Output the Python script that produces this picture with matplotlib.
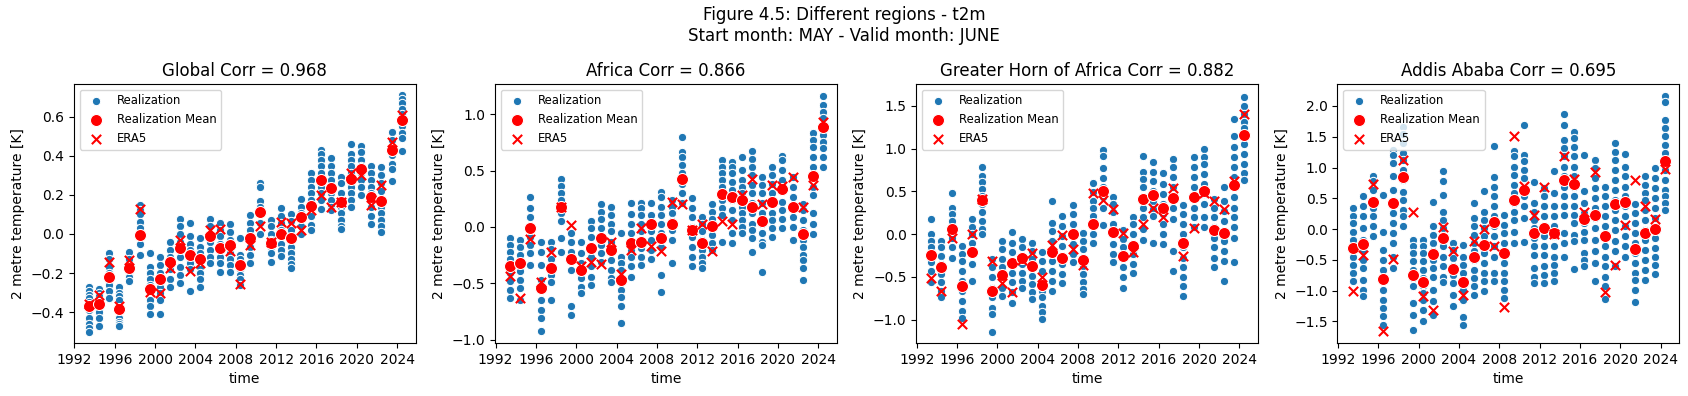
import datetime as dt
import matplotlib
matplotlib.use("Agg")
import matplotlib.pyplot as plt
import matplotlib.dates as mdates

years = list(range(1993, 2025))

regions = ["Global", "Africa", "Greater Horn of Africa", "Addis Ababa"]
corrs = [0.968, 0.866, 0.882, 0.695]

# ensemble members per year (one list per year)
global_real = [
    [-0.27, -0.29, -0.31, -0.33, -0.35, -0.37, -0.39, -0.43, -0.46, -0.48, -0.50],
    [-0.28, -0.30, -0.32, -0.34, -0.38, -0.40, -0.43, -0.47],
    [-0.10, -0.13, -0.17, -0.20, -0.23, -0.26, -0.29, -0.33],
    [-0.27, -0.30, -0.32, -0.34, -0.38, -0.43, -0.45, -0.46, -0.47],
    [-0.09, -0.13, -0.17, -0.20, -0.22, -0.24],
    [0.15, 0.12, 0.10, 0.06, 0.03, -0.005, -0.05, -0.11],
    [-0.10, -0.17, -0.20, -0.23, -0.26, -0.29, -0.34, -0.37, -0.41],
    [-0.12, -0.16, -0.20, -0.23, -0.27, -0.30, -0.34, -0.41],
    [-0.04, -0.08, -0.12, -0.15, -0.18, -0.23, -0.27],
    [0.075, 0.04, 0.0, -0.04, -0.08, -0.12, -0.17, -0.21, -0.25],
    [0.055, -0.01, -0.05, -0.08, -0.12, -0.15, -0.18, -0.29],
    [-0.02, -0.065, -0.10, -0.13, -0.17, -0.20, -0.23, -0.27],
    [0.075, 0.04, 0.0, -0.04, -0.08, -0.12, -0.15],
    [0.055, 0.02, -0.01, -0.05, -0.08, -0.12, -0.15, -0.195],
    [0.05, 0.01, -0.03, -0.065, -0.10, -0.13, -0.16, -0.195],
    [-0.02, -0.11, -0.13, -0.16, -0.18, -0.21, -0.23, -0.26],
    [0.095, 0.055, 0.02, -0.02, -0.065, -0.11, -0.15],
    [0.26, 0.24, 0.17, 0.14, 0.105, 0.055, 0.0],
    [0.07, 0.04, 0.0, -0.03, -0.065, -0.10, -0.145],
    [0.135, 0.09, 0.055, 0.02, -0.01, -0.05, -0.08, -0.115],
    [0.10, 0.065, 0.02, -0.03, -0.065, -0.10, -0.13, -0.155, -0.175],
    [0.18, 0.14, 0.105, 0.075, 0.04, 0.0],
    [0.31, 0.275, 0.24, 0.21, 0.175, 0.14, 0.09, 0.045, 0.02],
    [0.43, 0.41, 0.38, 0.345, 0.31, 0.275, 0.24, 0.21, 0.175, 0.125],
    [0.39, 0.345, 0.31, 0.275, 0.24, 0.21, 0.175, 0.14, 0.12],
    [0.29, 0.26, 0.21, 0.175, 0.14, 0.105, 0.07, 0.04, 0.025],
    [0.46, 0.41, 0.38, 0.345, 0.31, 0.275, 0.24, 0.21, 0.175, 0.14],
    [0.45, 0.42, 0.38, 0.345, 0.31, 0.275, 0.24, 0.20],
    [0.35, 0.31, 0.275, 0.24, 0.21, 0.175, 0.14, 0.09, 0.05],
    [0.34, 0.30, 0.26, 0.22, 0.175, 0.14, 0.105, 0.07, 0.04, 0.01],
    [0.52, 0.48, 0.445, 0.405, 0.36, 0.33, 0.27],
    [0.71, 0.69, 0.67, 0.64, 0.615, 0.58, 0.55, 0.515, 0.49, 0.425],
]
global_mean = [-0.37, -0.36, -0.22, -0.385, -0.175, -0.005, -0.28, -0.23, -0.145, -0.07,
               -0.11, -0.13, -0.013, -0.07, -0.055, -0.16, -0.02, 0.11, -0.045, 0.0,
               -0.02, 0.085, 0.145, 0.275, 0.235, 0.165, 0.28, 0.33, 0.19, 0.17,
               0.43, 0.585]
global_era5 = [-0.36, -0.31, -0.145, -0.37, -0.135, 0.125, -0.295, -0.30, -0.175, -0.03,
               -0.19, -0.15, 0.02, 0.025, -0.085, -0.255, -0.055, 0.04, -0.04, 0.06,
               0.055, 0.02, 0.12, 0.20, 0.14, 0.165, 0.31, 0.30, 0.15, 0.25,
               0.47, 0.61]

africa_real = [
    [-0.095, -0.16, -0.22, -0.28, -0.34, -0.41, -0.48, -0.56, -0.63],
    [-0.115, -0.175, -0.25, -0.32, -0.395, -0.47, -0.54, -0.65],
    [0.27, 0.17, 0.09, 0.0, -0.085, -0.16, -0.235, -0.34],
    [-0.135, -0.22, -0.34, -0.47, -0.56, -0.65, -0.735, -0.81, -0.92],
    [-0.135, -0.20, -0.28, -0.35, -0.425, -0.485, -0.645],
    [0.425, 0.36, 0.30, 0.24, 0.18, 0.12, 0.05, -0.10, -0.22],
    [-0.055, -0.13, -0.22, -0.29, -0.38, -0.705, -0.78],
    [-0.135, -0.235, -0.32, -0.395, -0.455, -0.53, -0.59],
    [0.05, -0.01, -0.085, -0.175, -0.265, -0.35, -0.44, -0.515],
    [0.20, 0.135, 0.07, -0.01, -0.085, -0.16, -0.235, -0.31],
    [0.18, 0.105, 0.03, -0.04, -0.13, -0.205, -0.29, -0.38, -0.455, -0.49],
    [-0.055, -0.265, -0.32, -0.38, -0.44, -0.50, -0.56, -0.62, -0.705, -0.855],
    [0.21, 0.115, 0.03, -0.055, -0.13, -0.205, -0.265, -0.35, -0.44],
    [0.21, 0.165, 0.105, 0.03, -0.04, -0.115, -0.19, -0.265, -0.34],
    [0.215, 0.105, 0.03, -0.04, -0.115, -0.205, -0.285],
    [0.31, 0.27, 0.18, 0.105, 0.03, -0.055, -0.175, -0.425, -0.575],
    [0.24, 0.18, 0.12, 0.05, -0.025, -0.115, -0.32],
    [0.795, 0.665, 0.625, 0.55, 0.475, 0.385, 0.30, 0.21],
    [0.255, 0.165, 0.09, 0.0, -0.085, -0.175, -0.265, -0.345],
    [0.09, 0.03, -0.04, -0.115, -0.205, -0.265, -0.32, -0.365],
    [0.20, 0.135, 0.075, 0.0, -0.07, -0.145, -0.205],
    [0.59, 0.535, 0.475, 0.415, 0.355, 0.30, 0.24, 0.165, 0.105, -0.13],
    [0.58, 0.535, 0.475, 0.40, 0.33, 0.24, 0.15, 0.06, -0.055, -0.145],
    [0.62, 0.505, 0.415, 0.355, 0.30, 0.24, 0.18, 0.12, 0.06, 0.0, -0.055],
    [0.675, 0.60, 0.535, 0.46, 0.37, 0.30, 0.21, 0.12, 0.03, -0.025, -0.10, -0.22],
    [0.44, 0.37, 0.30, 0.21, 0.12, 0.03, -0.055, -0.13, -0.16, -0.40],
    [0.53, 0.46, 0.385, 0.30, 0.21, 0.12, 0.06, -0.01, -0.085],
    [0.63, 0.595, 0.505, 0.415, 0.315, 0.225, 0.15, 0.075, -0.01],
    [0.445, 0.355, 0.27, 0.18, 0.09, 0.0, -0.115],
    [0.20, 0.15, 0.06, -0.025, -0.115, -0.175, -0.25, -0.29, -0.365, -0.47],
    [0.835, 0.77, 0.71, 0.625, 0.535, 0.445, 0.355, 0.285, 0.12, 0.03, -0.06],
    [1.16, 1.08, 1.02, 0.965, 0.89, 0.815, 0.755, 0.70, 0.625, 0.535],
]
africa_mean = [-0.35, -0.32, -0.01, -0.54, -0.365, 0.175, -0.28, -0.385, -0.185, -0.10,
               -0.205, -0.47, -0.145, -0.13, 0.025, -0.10, 0.025, 0.425, -0.03, -0.145,
               0.01, 0.29, 0.265, 0.24, 0.18, 0.05, 0.225, 0.34, 0.18, -0.06,
               0.45, 0.885]
africa_era5 = [-0.435, -0.63, -0.11, -0.49, -0.225, 0.175, 0.02, -0.345, -0.315, -0.33,
               -0.13, -0.415, -0.205, -0.01, -0.17, -0.21, 0.225, 0.20, -0.03, 0.03,
               -0.21, 0.055, 0.025, 0.285, 0.43, 0.205, 0.37, 0.36, 0.445, 0.18,
               0.37, 0.935]

gha_real = [
    [0.175, 0.0, -0.08, -0.155, -0.235, -0.33, -0.43, -0.565],
    [-0.08, -0.155, -0.255, -0.35, -0.47, -0.565, -0.665, -0.74],
    [0.48, 0.31, 0.235, 0.155, 0.06, -0.04, -0.155, -0.275],
    [-0.135, -0.235, -0.31, -0.43, -0.545, -0.665, -0.78, -0.895, -0.975],
    [0.175, 0.08, 0.0, -0.10, -0.215, -0.35, -0.545],
    [0.78, 0.68, 0.605, 0.525, 0.45, 0.35, 0.255, 0.155, 0.06, 0.0],
    [-0.29, -0.39, -0.505, -0.625, -0.74, -0.86, -0.935, -1.14],
    [-0.08, -0.175, -0.29, -0.39, -0.505, -0.625, -0.72],
    [0.03, -0.10, -0.215, -0.33, -0.45, -0.565, -0.68, -0.80],
    [-0.06, -0.155, -0.255, -0.35, -0.45, -0.545, -0.63],
    [-0.10, -0.195, -0.29, -0.39, -0.49, -0.585, -0.68, -0.76],
    [-0.215, -0.31, -0.43, -0.545, -0.665, -0.74, -0.84, -0.915, -0.995],
    [0.39, 0.135, 0.04, -0.08, -0.195, -0.31, -0.43, -0.545, -0.665],
    [0.215, 0.10, -0.02, -0.135, -0.255, -0.35, -0.47, -0.575],
    [0.345, 0.235, 0.115, 0.0, -0.115, -0.235, -0.33],
    [0.01, -0.08, -0.175, -0.275, -0.37, -0.47, -0.565, -0.645, -0.70],
    [0.60, 0.49, 0.39, 0.31, 0.215, 0.115, 0.0, -0.10],
    [0.98, 0.915, 0.77, 0.655, 0.545, 0.43, 0.31, 0.11],
    [0.435, 0.35, 0.255, 0.115, 0.0, -0.115, -0.235, -0.33],
    [0.045, -0.06, -0.155, -0.275, -0.39, -0.505, -0.63],
    [0.195, 0.115, 0.0, -0.115, -0.235, -0.35, -0.45],
    [0.91, 0.72, 0.645, 0.545, 0.43, 0.31, 0.195, 0.06, -0.065],
    [0.84, 0.72, 0.625, 0.505, 0.39, 0.29, 0.215, -0.10],
    [0.715, 0.585, 0.47, 0.35, 0.235, 0.115, 0.0, -0.115],
    [0.88, 0.78, 0.665, 0.545, 0.43, 0.31, 0.175, -0.195, -0.43],
    [0.345, 0.235, 0.115, 0.0, -0.155, -0.275, -0.39, -0.50, -0.605, -0.72],
    [0.90, 0.78, 0.665, 0.545, 0.43, 0.31, 0.195, 0.08],
    [0.995, 0.90, 0.82, 0.70, 0.585, 0.47, 0.35, 0.195, 0.08],
    [0.41, 0.31, 0.195, 0.08, -0.04, -0.155, -0.275, -0.39],
    [0.555, 0.39, 0.275, 0.155, 0.04, -0.08, -0.195, -0.31, -0.545],
    [1.345, 1.15, 1.015, 0.90, 0.78, 0.665, 0.545, 0.43, 0.31, 0.195, 0.08, -0.04, -0.325],
    [1.605, 1.50, 1.405, 1.305, 1.245, 1.15, 1.05, 0.935, 0.82, 0.71, 0.63],
]
gha_mean = [-0.245, -0.38, 0.06, -0.61, -0.205, 0.40, -0.665, -0.475, -0.34, -0.285,
            -0.37, -0.595, -0.205, -0.275, 0.0, -0.30, 0.115, 0.505, 0.03, -0.255,
            -0.135, 0.405, 0.455, 0.30, 0.42, -0.11, 0.43, 0.505, 0.045, 0.01,
            0.575, 1.16]
gha_era5 = [-0.515, -0.67, -0.05, -1.05, 0.0, 0.41, -0.31, -0.575, -0.675, -0.305,
            -0.225, -0.505, -0.125, -0.01, -0.17, -0.36, 0.48, 0.40, 0.29, 0.01,
            -0.205, 0.115, 0.31, 0.205, 0.54, -0.255, 0.07, 0.48, 0.39, 0.29,
            0.625, 1.405]

addis_real = [
    [0.35, 0.215, 0.10, -0.04, -0.175, -0.31, -0.445, -0.58, -0.715, -0.835],
    [0.53, 0.37, 0.205, 0.015, -0.175, -0.335, -0.50, -0.635, -0.82, -0.985, -1.09],
    [0.865, 0.775, 0.64, 0.475, 0.34, 0.205, 0.045, -0.12],
    [0.555, -0.055, -0.335, -0.50, -0.66, -0.82, -0.985, -1.145, -1.28, -1.415, -1.565],
    [1.29, 1.205, 1.07, 0.855, 0.64, 0.42, 0.26, 0.10, -0.065, -0.225, -0.445, -0.63],
    [1.665, 1.545, 1.395, 1.235, 1.125, 0.965, 0.80, 0.61, 0.475, 0.315, 0.205, 0.045],
    [-0.175, -0.28, -0.39, -0.525, -0.66, -0.795, -0.93, -1.20, -1.39, -1.645],
    [-0.175, -0.28, -0.39, -0.525, -0.66, -0.795, -0.93, -1.04, -1.145, -1.31, -1.50],
    [0.44, 0.045, -0.09, -0.225, -0.36, -0.50, -0.635, -0.77, -0.985, -1.175, -1.39],
    [0.945, 0.775, 0.555, 0.285, 0.15, 0.015, -0.12, -0.28, -0.445, -0.605, -0.77, -0.865],
    [-0.225, -0.335, -0.47, -0.605, -0.74, -0.875, -1.065, -1.255],
    [-0.255, -0.445, -0.58, -0.715, -0.85, -0.985, -1.145, -1.43, -1.55],
    [0.42, 0.18, 0.045, -0.09, -0.225, -0.36, -0.50, -0.66, -0.795, -0.93, -1.065],
    [0.62, 0.285, 0.15, 0.015, -0.12, -0.255, -0.39, -0.55, -0.715, -0.85, -1.01],
    [1.35, 0.845, 0.69, 0.53, 0.37, 0.205, 0.045, -0.12, -0.28, -0.445, -0.715, -0.85],
    [0.23, 0.07, -0.065, -0.225, -0.39, -0.55, -0.715, -0.85, -0.985, -1.12],
    [1.275, 1.18, 1.015, 0.88, 0.72, 0.585, 0.42, 0.285, 0.15, -0.04, -0.225],
    [1.69, 1.205, 1.10, 0.965, 0.83, 0.69, 0.53, 0.37, 0.18, -0.215],
    [0.76, 0.42, 0.285, 0.15, 0.015, -0.145, -0.28, -0.415, -0.635, -0.77, -0.875],
    [0.665, 0.53, 0.37, 0.205, 0.045, -0.12, -0.28, -0.415, -0.605, -0.74, -0.875],
    [0.94, 0.585, 0.37, 0.205, 0.045, -0.12, -0.28, -0.445, -0.58, -0.715, -0.85],
    [1.87, 1.69, 1.45, 1.315, 1.18, 1.015, 0.855, 0.69, 0.53, 0.37, 0.23, -0.065, -0.225, -0.445],
    [1.585, 1.475, 1.34, 1.18, 1.015, 0.855, 0.69, 0.53, 0.37, 0.23, 0.10, -0.09, -0.20, -0.65],
    [1.205, 0.62, 0.42, 0.26, 0.10, -0.04, -0.175, -0.39, -0.50, -0.605],
    [1.125, 0.99, 0.83, 0.665, 0.505, 0.34, 0.18, 0.015, -0.175, -0.36, -0.55, -0.835],
    [0.69, 0.53, 0.37, 0.205, 0.045, -0.12, -0.28, -0.445, -0.605, -0.77, -0.93, -1.135],
    [1.395, 1.26, 1.125, 0.965, 0.80, 0.64, 0.475, 0.315, 0.15, -0.01, -0.20, -0.36, -0.595],
    [1.215, 1.015, 0.855, 0.69, 0.53, 0.37, 0.205, 0.045, -0.12, -0.28, -0.445],
    [0.405, 0.26, 0.10, -0.065, -0.225, -0.39, -0.55, -0.715, -0.82, -0.985, -1.185],
    [0.865, 0.72, 0.585, 0.475, 0.315, 0.15, -0.01, -0.175, -0.335, -0.50, -0.66, -0.82],
    [0.99, 0.83, 0.665, 0.505, 0.34, 0.18, 0.015, -0.145, -0.31, -0.445, -0.58, -0.73],
    [2.17, 2.06, 1.775, 1.64, 1.505, 1.37, 1.235, 1.10, 0.965, 0.80, 0.64, 0.53, 0.42, 0.315],
]
addis_mean = [-0.30, -0.24, 0.44, -0.81, 0.42, 0.845, -0.74, -0.86, -0.40, -0.145,
              -0.645, -0.865, -0.46, -0.265, 0.115, -0.39, 0.465, 0.64, -0.065, 0.025,
              -0.065, 0.79, 0.73, 0.16, 0.235, -0.11, 0.405, 0.44, -0.325, -0.065,
              0.0, 1.10]
addis_era5 = [-1.0, -0.415, 0.735, -1.65, -0.485, 1.125, 0.275, -1.09, -1.32, 0.03,
              -0.35, -1.075, -0.19, 0.0, -0.27, -1.265, 1.515, 0.705, 0.23, 0.69,
              -0.075, 1.19, 0.815, 0.27, 0.935, -1.02, -0.59, 0.065, 0.79, 0.37,
              0.17, 0.98]

all_real = [global_real, africa_real, gha_real, addis_real]
all_mean = [global_mean, africa_mean, gha_mean, addis_mean]
all_era5 = [global_era5, africa_era5, gha_era5, addis_era5]
ylims = [(-0.558, 0.767), (-1.03, 1.269), (-1.273, 1.754), (-1.85, 2.357)]

times = [dt.datetime(y, 6, 15) for y in years]

fig, axes = plt.subplots(1, 4, figsize=(16.88, 3.96), dpi=100)
fig.subplots_adjust(left=74/1688, right=1679/1688, bottom=53/396, top=312/396, wspace=0.233)

for ax, name, corr, real, mean, era5, yl in zip(axes, regions, corrs, all_real, all_mean, all_era5, ylims):
	xs = []
	ys = []
	for t, vals in zip(times, real):
		xs += [t]*len(vals)
		ys += vals
	ax.scatter(xs, ys, s=36, color="#1f77b4", edgecolor="white", linewidth=0.75, label="Realization", zorder=2)
	ax.scatter(times, mean, s=75, color="red", edgecolor="white", linewidth=0.75, label="Realization Mean", zorder=3)
	ax.scatter(times, era5, s=45, color="red", marker="x", linewidth=1.5, label="ERA5", zorder=4)
	ax.set_title("%s Corr = %.3f" % (name, corr))
	ax.set_xlabel("time")
	ax.set_ylabel("2 metre temperature [K]")
	ax.set_ylim(yl)
	ax.set_xlim(dt.datetime(1991, 12, 15), dt.datetime(2025, 11, 1))
	ax.xaxis.set_major_locator(mdates.YearLocator(4))
	ax.xaxis.set_major_formatter(mdates.DateFormatter("%Y"))
	ax.legend(loc="upper left", fontsize="small")

fig.suptitle("Figure 4.5: Different regions - t2m\nStart month: MAY - Valid month: JUNE", y=0.985)

plt.savefig("out.png")
